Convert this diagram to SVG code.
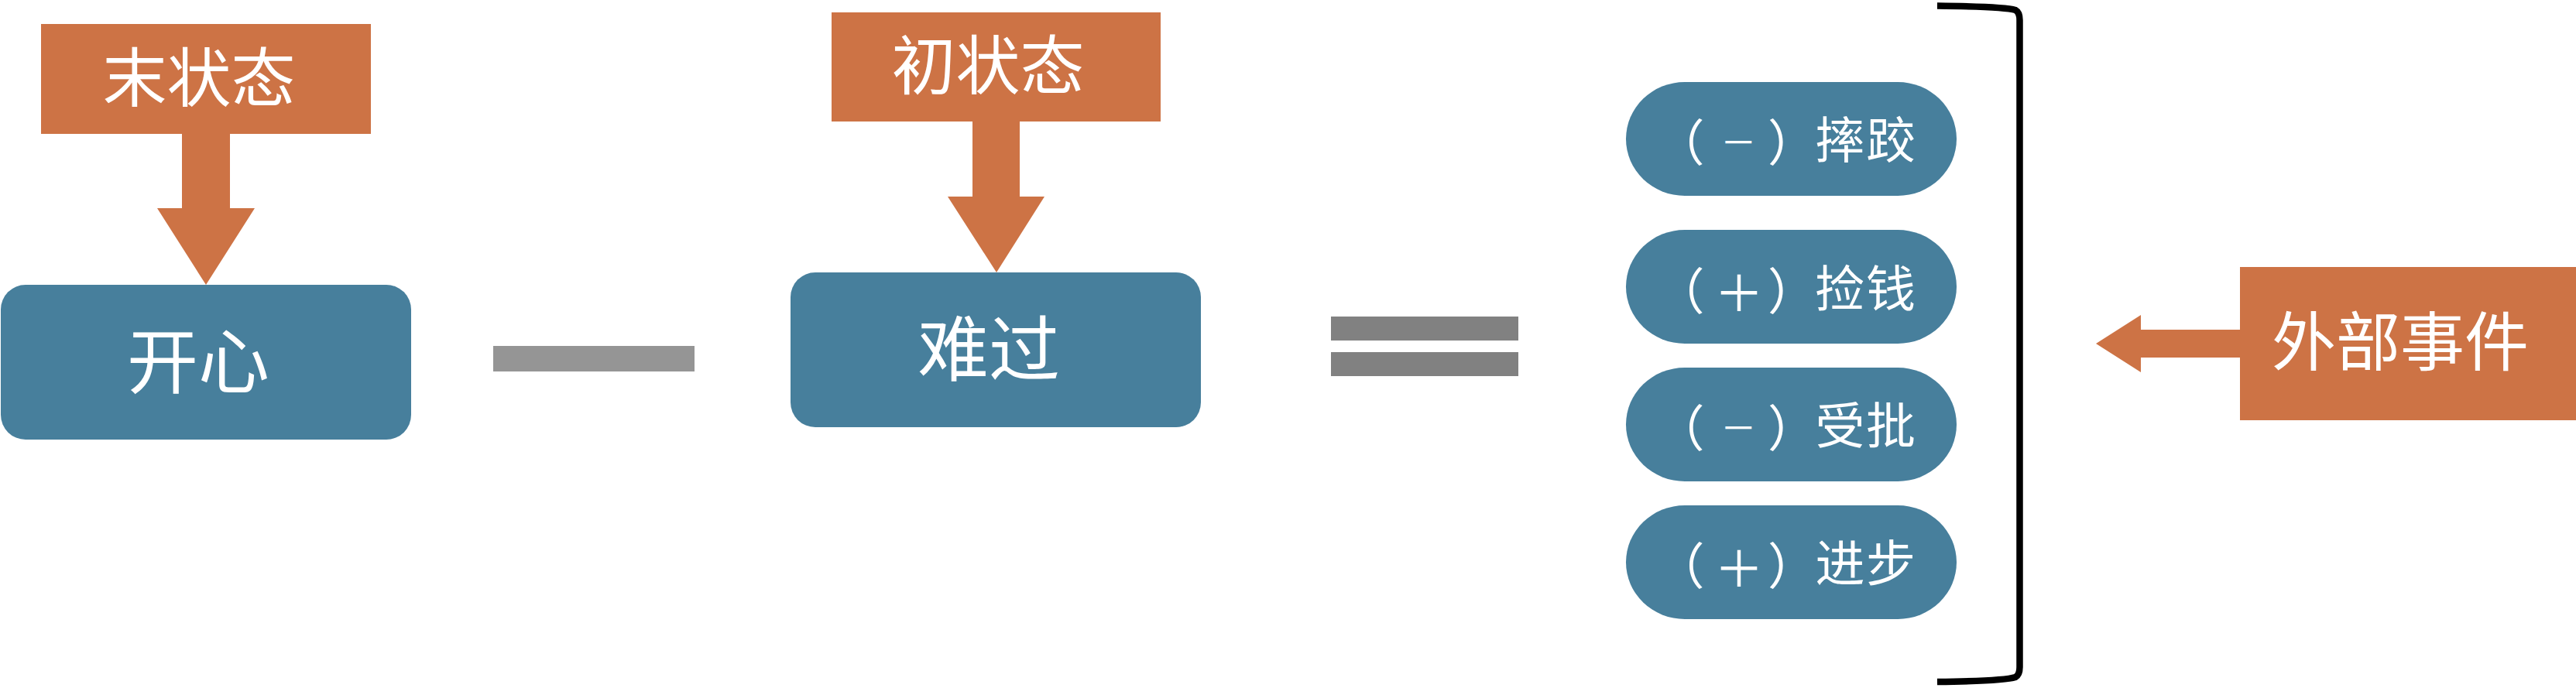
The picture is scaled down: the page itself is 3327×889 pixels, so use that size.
<svg xmlns="http://www.w3.org/2000/svg" width="3327" height="889" viewBox="0 0 3327 889">
<style>
.org{fill:#CD7345}
.blu{fill:#477F9C}
.lbl{fill:#FFFFFF;font-family:"Noto Sans CJK SC","Noto Sans CJK TC",sans-serif;text-anchor:middle}
.pill{fill:#FFFFFF;font-family:"Noto Sans CJK SC","Noto Sans CJK TC",sans-serif;font-size:64px}
.mn{font-size:46.5px}
</style>
<rect width="3327" height="889" fill="#FFFFFF"/>
<g id="connectors">
<polygon class="org" points="235,172 297,172 297,269 329,269 266,368 203,269 235,269"/>
<polygon class="org" points="1256,156 1317,156 1317,254 1349,254 1287,352 1224,254 1256,254"/>
<polygon class="org" points="2894,426 2894,462 2765,462 2765,481 2707,444 2765,407 2765,426"/>
</g>
<g id="end-state">
<rect class="org" x="53" y="31" width="426" height="142"/>
<text class="lbl" x="257" y="131" font-size="83">末状态</text>
</g>
<g id="start-state">
<rect class="org" x="1074" y="16" width="425" height="141"/>
<text class="lbl" x="1276" y="115" font-size="83">初状态</text>
</g>
<g id="happy">
<rect class="blu" x="1" y="368" width="530" height="200" rx="32" ry="32"/>
<text class="lbl" x="256" y="501" font-size="92">开心</text>
</g>
<g id="minus">
<rect x="637" y="447" width="260" height="33" fill="#959595"/>
</g>
<g id="sad">
<rect class="blu" x="1021" y="352" width="530" height="200" rx="32" ry="32"/>
<text class="lbl" x="1277" y="485" font-size="92">难过</text>
</g>
<g id="equals">
<rect x="1719" y="409" width="242" height="31" fill="#818181"/>
<rect x="1719" y="455" width="242" height="31" fill="#818181"/>
</g>
<g id="event-fall">
<rect class="blu" x="2100" y="106" width="427" height="147" rx="76" ry="73.5"/>
<text class="pill" y="203.5"><tspan x="2137.5" y="207.5">（</tspan><tspan class="mn" x="2222" y="201">－</tspan><tspan x="2283" y="207.5">）</tspan><tspan x="2344.5 2410" y="203.5">摔跤</tspan></text>
</g>
<g id="event-money">
<rect class="blu" x="2100" y="297" width="427" height="147" rx="76" ry="73.5"/>
<text class="pill" y="395.5"><tspan x="2137.5" y="399.5">（</tspan><tspan x="2214" y="402">＋</tspan><tspan x="2283" y="399.5">）</tspan><tspan x="2344.5 2410" y="395.5">捡钱</tspan></text>
</g>
<g id="event-criticized">
<rect class="blu" x="2100" y="475" width="427" height="147" rx="76" ry="73.5"/>
<text class="pill" y="572.5"><tspan x="2137.5" y="576.5">（</tspan><tspan class="mn" x="2222" y="570">－</tspan><tspan x="2283" y="576.5">）</tspan><tspan x="2344.5 2410" y="572.5">受批</tspan></text>
</g>
<g id="event-progress">
<rect class="blu" x="2100" y="653" width="427" height="147" rx="76" ry="73.5"/>
<text class="pill" y="750.5"><tspan x="2137.5" y="754.5">（</tspan><tspan x="2214" y="758">＋</tspan><tspan x="2283" y="754.5">）</tspan><tspan x="2344.5 2410" y="750.5">进步</tspan></text>
</g>
<g id="bracket">
<path d="M2502,7.5 Q2588,8.5 2603,13 Q2608.5,16 2608.5,26 L2608.5,862 Q2608.5,872 2603,875 Q2588,880 2502,881" fill="none" stroke="#000000" stroke-width="8.5"/>
</g>
<g id="external-events">
<rect class="org" x="2893" y="345" width="434" height="198"/>
<text class="lbl" x="3100" y="472" font-size="83">外部事件</text>
</g>
</svg>
